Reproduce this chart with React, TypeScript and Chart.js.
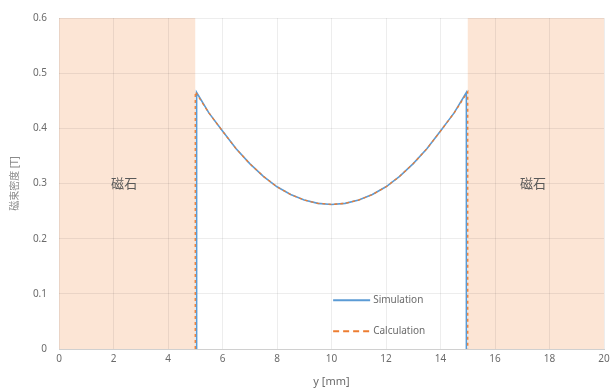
import React, { useEffect, useRef } from "react";
import { Chart, registerables } from "chart.js";

Chart.register(...registerables);

// Position y [mm] along the gap between the magnets
const simPositions = [5.05, 5.05, 5.5, 6, 6.5, 7, 7.5, 8, 8.5, 9, 9.5, 10, 10.5, 11, 11.5, 12, 12.5, 13, 13.5, 14, 14.5, 14.95, 14.95];
const simulationValues = [0, 0.465, 0.428, 0.395, 0.363, 0.336, 0.313, 0.294, 0.28, 0.27, 0.264, 0.262, 0.264, 0.27, 0.28, 0.294, 0.313, 0.336, 0.363, 0.395, 0.428, 0.465, 0];
const calcPositions = [5, 5, 5.5, 6, 6.5, 7, 7.5, 8, 8.5, 9, 9.5, 10, 10.5, 11, 11.5, 12, 12.5, 13, 13.5, 14, 14.5, 15, 15];
const calculationValues = [0, 0.466, 0.428, 0.395, 0.363, 0.336, 0.313, 0.294, 0.28, 0.27, 0.264, 0.262, 0.264, 0.27, 0.28, 0.294, 0.313, 0.336, 0.363, 0.395, 0.428, 0.466, 0];

// Magnet regions [from, to] in mm and their label
const magnetRegions = [
  [0, 5],
  [15, 20],
];
const magnetLabel = "磁石";
const magnetLabelValue = 0.3;

const seriesNames = ["Simulation", "Calculation"];
const xTitle = "y [mm]";
const yTitle = "磁束密度 [T]";

const FONT = "'Noto Sans', 'Noto Sans CJK JP', sans-serif";
const TEXT = "#6b6b6b";

const magnetPlugin = {
  id: "magnets",
  beforeDraw(chart: any) {
    const { ctx, chartArea, scales } = chart;
    const x = scales.x;
    ctx.save();
    ctx.fillStyle = "#fce5d5";
    magnetRegions.forEach(([a, b]) => {
      const l = x.getPixelForValue(a);
      const r = x.getPixelForValue(b);
      ctx.fillRect(l, chartArea.top, r - l, chartArea.bottom - chartArea.top);
    });
    ctx.restore();
  },
  afterDatasetsDraw(chart: any) {
    const { ctx, scales } = chart;
    const x = scales.x;
    const y = scales.y;
    ctx.save();
    ctx.fillStyle = "#595959";
    ctx.font = `13px 'Noto Sans CJK JP', sans-serif`;
    ctx.textAlign = "center";
    ctx.textBaseline = "middle";
    magnetRegions.forEach(([a, b]) => {
      const cx = x.getPixelForValue((a + b) / 2);
      ctx.fillText(magnetLabel, cx - 3, y.getPixelForValue(magnetLabelValue));
    });
    ctx.restore();
  },
};

const legendPlugin = {
  id: "innerLegend",
  afterDraw(chart: any) {
    const { ctx, chartArea } = chart;
    const w = chartArea.right - chartArea.left;
    const h = chartArea.bottom - chartArea.top;
    const left = chartArea.left + 0.503 * w;
    const rows = [0.853, 0.946];
    ctx.save();
    chart.data.datasets.forEach((ds: any, i: number) => {
      const yy = chartArea.top + rows[i] * h;
      ctx.beginPath();
      ctx.strokeStyle = ds.borderColor;
      ctx.lineWidth = 2;
      ctx.setLineDash(ds.borderDash ? [6, 4] : []);
      ctx.moveTo(left, yy);
      ctx.lineTo(left + 37, yy);
      ctx.stroke();
      ctx.setLineDash([]);
      ctx.fillStyle = TEXT;
      ctx.font = `10px ${FONT}`;
      ctx.textAlign = "left";
      ctx.textBaseline = "middle";
      ctx.fillText(ds.label, left + 40, yy);
    });
    ctx.restore();
  },
};

export default function App() {
  const canvasRef = useRef<HTMLCanvasElement | null>(null);

  useEffect(() => {
    document.body.style.margin = "0";
    const canvas = canvasRef.current;
    if (!canvas) return;
    const chart = new Chart(canvas, {
      type: "scatter",
      data: {
        datasets: [
          {
            label: seriesNames[0],
            data: simPositions.map((p, i) => ({ x: p, y: simulationValues[i] })),
            showLine: true,
            borderColor: "#5b9bd5",
            backgroundColor: "#5b9bd5",
            borderWidth: 1.6,
            pointRadius: 0,
            order: 1,
          },
          {
            label: seriesNames[1],
            data: calcPositions.map((p, i) => ({ x: p, y: calculationValues[i] })),
            showLine: true,
            borderColor: "#ed7d31",
            backgroundColor: "#ed7d31",
            borderWidth: 1.3,
            borderDash: [3, 3],
            pointRadius: 0,
            order: 0,
          },
        ],
      },
      options: {
        animation: false,
        responsive: false,
        maintainAspectRatio: false,
        layout: { padding: { left: 9, right: 0, top: 15, bottom: 0 } },
        plugins: {
          legend: { display: false },
          tooltip: { enabled: false },
        },
        scales: {
          x: {
            type: "linear",
            min: 0,
            max: 20,
            ticks: { stepSize: 2, color: TEXT, font: { family: FONT, size: 10 }, padding: 4 },
            grid: { color: "rgba(0,0,0,0.07)", drawTicks: false },
            border: { display: true, color: "#d0d0d0" },
            title: { display: true, text: xTitle, color: TEXT, font: { family: FONT, size: 11 }, padding: { top: 0, bottom: 0 } },
            afterFit(scale: any) {
              scale.height = 39;
              scale.paddingRight = 7;
            },
          },
          y: {
            type: "linear",
            min: 0,
            max: 0.6,
            ticks: { stepSize: 0.1, color: TEXT, font: { family: FONT, size: 10 }, padding: 12 },
            grid: { color: "rgba(0,0,0,0.07)", drawTicks: false },
            border: { display: false },
            title: { display: true, text: yTitle, color: "#8a8a8a", font: { family: FONT, size: 10 }, padding: { top: 0, bottom: 0 } },
            afterFit(scale: any) {
              scale.width = 50;
            },
          },
        },
      },
      plugins: [magnetPlugin, legendPlugin],
    });
    return () => chart.destroy();
  }, []);

  return (
    <div style={{ width: 611, height: 388, background: "#fff" }}>
      <canvas ref={canvasRef} width={611} height={388} />
    </div>
  );
}
